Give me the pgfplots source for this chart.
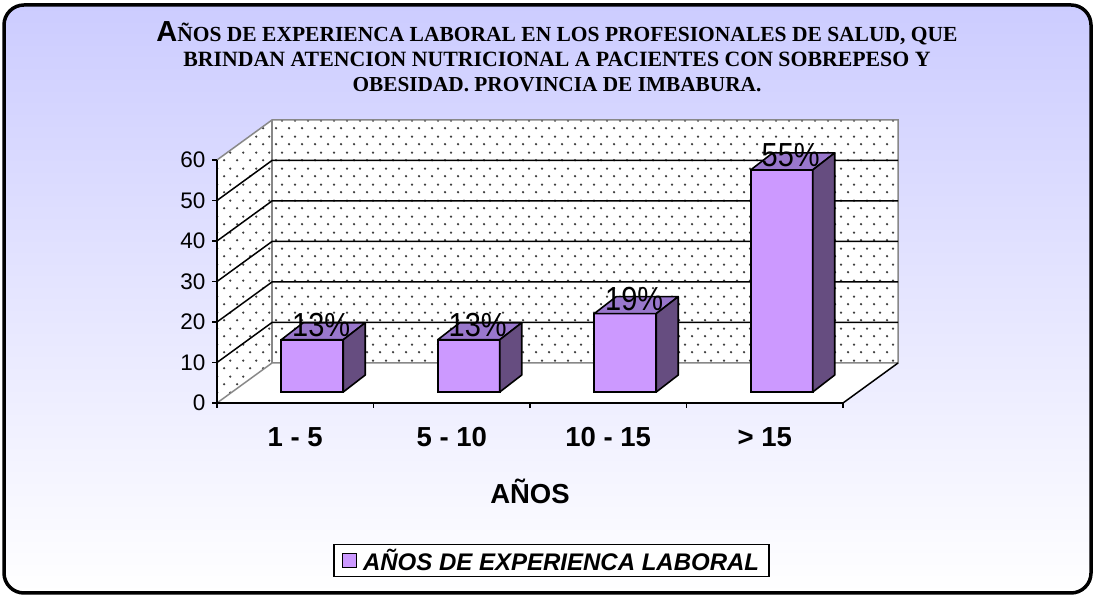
\documentclass[border=0pt]{standalone}
\usepackage{pgfplots}
\pgfplotsset{compat=1.18}
\usepackage{pgfplotstable}
\usetikzlibrary{patterns}
\usepackage{fontspec}
\setmainfont{Liberation Sans}
\newfontfamily\titleserif{Liberation Serif}

\definecolor{bgtop}{HTML}{CCCCFF}
\definecolor{barfront}{HTML}{CC99FF}
\definecolor{bartop}{HTML}{9977CC}
\definecolor{barside}{HTML}{664D80}
\definecolor{wallgray}{HTML}{888888}
\definecolor{dotc}{HTML}{404040}

\pgfdeclarepatternformonly{xldots}{\pgfqpoint{0pt}{0pt}}{\pgfqpoint{13pt}{16pt}}{\pgfqpoint{13pt}{16pt}}{%
  \pgfpathcircle{\pgfqpoint{3.25pt}{4pt}}{1.35pt}%
  \pgfpathcircle{\pgfqpoint{9.75pt}{12pt}}{1.35pt}%
  \pgfusepath{fill}}

\pgfdeclareplotmark{nothing}{}

\pgfplotstableread{
x v lab
0.5 12.90 13\%
1.5 12.90 13\%
2.5 19.35 19\%
3.5 54.84 55\%
}\datatable

\begin{document}
\begin{tikzpicture}[x=1pt,y=1pt]
\useasboundingbox (0,0) rectangle (1094,596);
\shade[top color=bgtop, bottom color=white, rounded corners=20pt] (4,3) rectangle (1091,591);
\draw[line width=3.5pt, rounded corners=20pt] (4,3) rectangle (1091,591);

% title
\node[anchor=base] at (557,554) {{\bfseries\fontsize{29}{32}\selectfont A}{\titleserif\bfseries\fontsize{21.5}{24}\selectfont ÑOS DE EXPERIENCA LABORAL EN LOS PROFESIONALES DE SALUD, QUE}};
\node[anchor=base] at (557,529) {\titleserif\bfseries\fontsize{21.8}{24}\selectfont BRINDAN ATENCION NUTRICIONAL A PACIENTES CON SOBREPESO Y};
\node[anchor=base] at (557,504) {\titleserif\bfseries\fontsize{21.3}{24}\selectfont OBESIDAD. PROVINCIA DE IMBABURA.};

% floor
\fill[white] (217,193) -- (843,193) -- (898,233) -- (272,233) -- cycle;
% left wall
\fill[white] (217,193) -- (272,233) -- (272,476) -- (217,436) -- cycle;
\fill[pattern=xldots, pattern color=dotc] (217,193) -- (272,233) -- (272,476) -- (217,436) -- cycle;
% back wall
\fill[white] (272,233) rectangle (898,476);
\fill[pattern=xldots, pattern color=dotc] (272,233) rectangle (898,476);
\draw[wallgray, line width=1.5pt] (217,193) -- (272,233) -- (898,233) -- (898,476) -- (272,476) -- (217,436);
\draw[wallgray, line width=1.5pt] (272,233) -- (272,476);
\draw[black, line width=1.5pt] (843,193) -- (898,233);
\foreach \k in {1,...,5} {
  \draw[black, line width=1.5pt] (217,193+40.5*\k) -- (272,233+40.5*\k) -- (898,233+40.5*\k);
}

% front axis
\begin{axis}[
  at={(217pt,193pt)}, anchor=south west, scale only axis,
  width=626pt, height=243pt,
  xmin=0, xmax=4, ymin=0, ymax=60,
  axis x line=bottom, axis y line=left,
  axis line style={line width=1.6pt, -},
  xtick={0,1,2,3,4}, xticklabels={1 - 5, 5 - 10, 10 - 15, > 15},
  x tick label as interval,
  ytick={0,10,...,60},
  tick align=outside, major tick length=5pt,
  tick style={line width=1.5pt, black},
  /pgf/number format/assume math mode=true,
  yticklabel style={font=\fontsize{22.5}{26}\selectfont, xshift=-3pt},
  xticklabel style={font=\bfseries\fontsize{27.5}{32}\selectfont, anchor=center, yshift=-29pt},
  xlabel={AÑOS},
  every axis x label/.style={at={(axis description cs:0.5,0)}, anchor=center, yshift=-88pt, font=\bfseries\fontsize{27.5}{32}\selectfont},
  clip=false,
]
\end{axis}

% bar plane axis
\begin{axis}[
  at={(234pt,204pt)}, anchor=south west, scale only axis,
  width=626pt, height=243pt,
  xmin=0, xmax=4, ymin=0, ymax=60,
  axis lines=none, clip=false,
  legend style={at={(axis description cs:0.5072,-0.6934)}, anchor=center,
    draw=black, line width=1.6pt, fill=white, inner xsep=8pt, inner ysep=2.5pt,
    font=\bfseries\itshape\fontsize{24}{28}\selectfont},
  legend image code/.code={\draw[fill=barfront, draw=black, line width=1.2pt] (0pt,-7pt) rectangle (14pt,7pt);},
]
\addplot[scatter, only marks, mark=nothing, forget plot,
  point meta=\thisrow{v},
  visualization depends on={\thisrow{v}\as\barval},
  scatter/@pre marker code/.code={%
    \pgfmathsetmacro\barh{\barval*4.05}%
    \fill[bartop, draw=black, line width=1.6pt, line join=round] (-31pt,0pt) -- (31pt,0pt) -- (53pt,17pt) -- (-9pt,17pt) -- cycle;
    \fill[barside, draw=black, line width=1.6pt, line join=round] (31pt,0pt) -- (53pt,17pt) -- (53pt,17pt-\barh pt) -- (31pt,-\barh pt) -- cycle;
  },
  scatter/@post marker code/.code={},
] table[x=x, y=v] {\datatable};
\addplot[ybar, bar width=62pt, fill=barfront, draw=black, line width=1.6pt,
  nodes near coords, point meta=explicit symbolic,
  every node near coord/.append style={anchor=center, xshift=9pt, yshift=15pt, inner sep=0pt, black, font=\fontsize{29}{34}\selectfont, yscale=1.15},
] table[x=x, y=v, meta=lab] {\datatable};
\addlegendentry{\hspace{4pt}AÑOS DE EXPERIENCA LABORAL}
\end{axis}
\end{tikzpicture}
\end{document}
